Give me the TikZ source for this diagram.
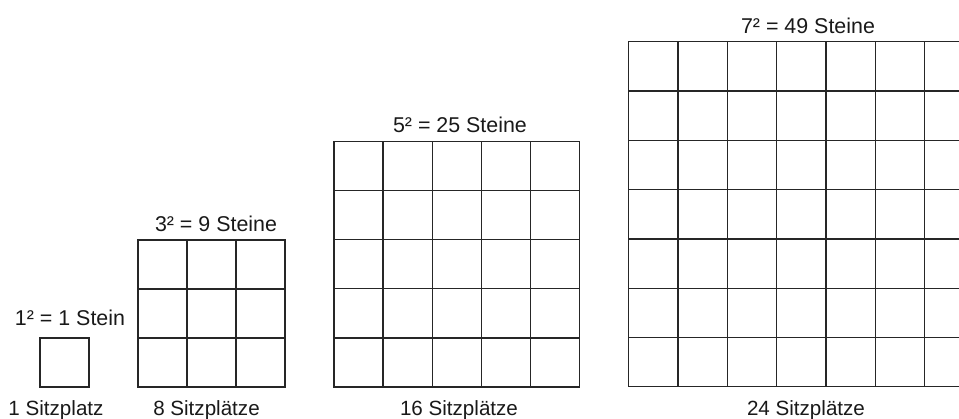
\documentclass[tikz,border=0pt]{standalone}
\usepackage{fontspec}
\setmainfont{Liberation Sans}
\begin{document}
\begin{tikzpicture}[x=1pt,y=-1pt,
  gridline/.style={line width=1.3pt, draw=black!85, line cap=rect},
  toplabel/.style={anchor=base, font=\fontsize{21.4}{24}\selectfont, inner sep=0pt, text=black!90},
  botlabel/.style={anchor=base, font=\fontsize{20.6}{24}\selectfont, inner sep=0pt, text=black!90}]
\useasboundingbox (0,0) rectangle (959,419);
\clip (0,0) rectangle (959,419);
% grids: n, x0, y0, cell
\foreach \n/\xo/\yo/\c in {1/40/338/49, 3/138/240/49, 5/334/141.5/49.1, 7/628.7/41.7/49.3}{
  \foreach \k in {0,...,\n}{
    \draw[gridline] ({\xo+\k*\c},\yo) -- ({\xo+\k*\c},{\yo+\n*\c});
    \draw[gridline] (\xo,{\yo+\k*\c}) -- ({\xo+\n*\c},{\yo+\k*\c});
  }
}
\node[toplabel] (l1) at (70,326) {1² = 1 Stein};
\node[toplabel] (l3) at (216,231.7) {3² = 9 Steine};
\node[toplabel] (l5) at (460,132.3) {5² = 25 Steine};
\node[toplabel] (l7) at (808,33.3) {7² = 49 Steine};
\node[botlabel] (b1) at (56,416) {1 Sitzplatz};
\node[botlabel] (b3) at (206.5,416) {8 Sitzplätze};
\node[botlabel] (b5) at (459,416) {16 Sitzplätze};
\node[botlabel] (b7) at (806,416) {24 Sitzplätze};
\end{tikzpicture}
\end{document}
